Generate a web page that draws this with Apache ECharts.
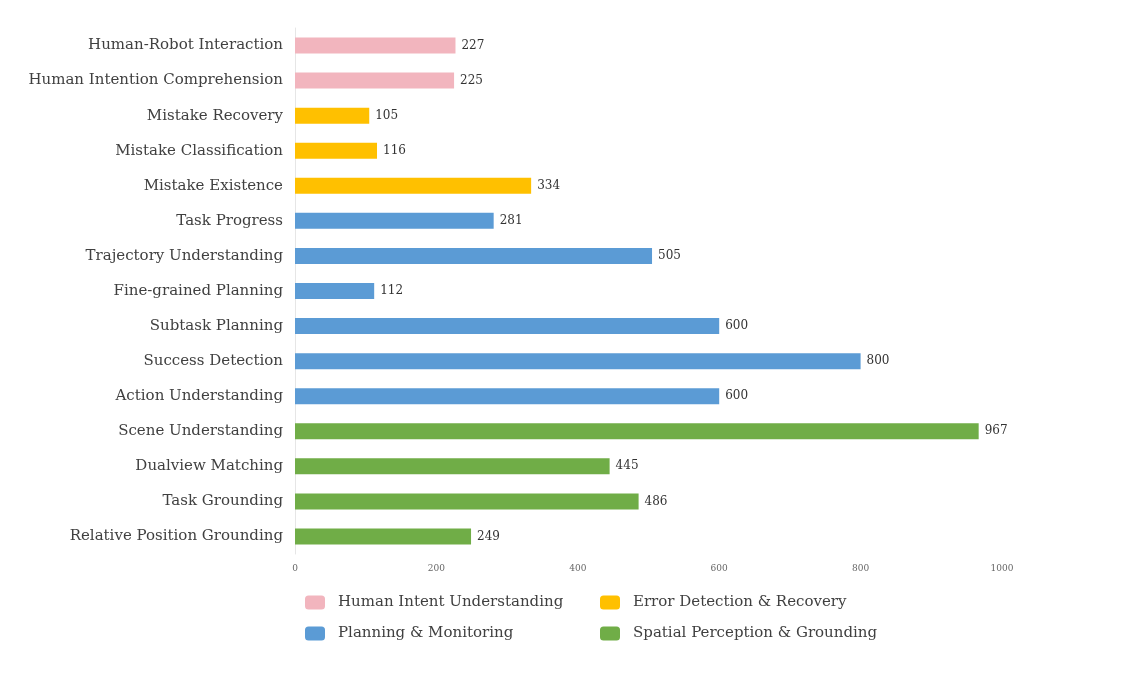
<!DOCTYPE html>
<html>
<head>
<meta charset="utf-8">
<script src="https://cdn.jsdelivr.net/npm/echarts@6/dist/echarts.min.js"></script>
<style>
  html, body { margin: 0; padding: 0; background: #fff; }
  #chart { width: 1130px; height: 696px; }
</style>
</head>
<body>
<div id="chart"></div>
<script>
const categories = [
  'Human-Robot Interaction', 'Human Intention Comprehension',
  'Mistake Recovery', 'Mistake Classification', 'Mistake Existence',
  'Task Progress', 'Trajectory Understanding', 'Fine-grained Planning',
  'Subtask Planning', 'Success Detection', 'Action Understanding',
  'Scene Understanding', 'Dualview Matching', 'Task Grounding',
  'Relative Position Grounding'
]
const values = [227, 225, 105, 116, 334, 281, 505, 112, 600, 800, 600, 967, 445, 486, 249]
// group of each category
const groupOf = [0, 0, 1, 1, 1, 2, 2, 2, 2, 2, 2, 3, 3, 3, 3]
const groupNames = [
  'Human Intent Understanding', 'Error Detection & Recovery',
  'Planning & Monitoring', 'Spatial Perception & Grounding'
]
const groupColors = ['#F2B5BE', '#FFC000', '#5B9BD5', '#70AD47']
const xTicks = [0, 200, 400, 600, 800, 1000]

const font = '"DejaVu Serif", "Liberation Serif", serif'

const chart = echarts.init(document.getElementById('chart'))

const series = groupNames.map((name, g) => ({
  name,
  type: 'bar',
  stack: 'all',
  barWidth: 16,
  itemStyle: { color: groupColors[g] },
  label: {
    show: true,
    position: 'right',
    distance: 6,
    color: '#333',
    fontFamily: font,
    fontSize: 12
  },
  data: values.map((v, i) => (groupOf[i] === g ? v : '-'))
}))

const legendBase = {
  orient: 'vertical',
  top: 590,
  itemWidth: 20,
  itemHeight: 14,
  itemGap: 16,
  icon: 'roundRect',
  textStyle: { color: '#404040', fontFamily: font, fontSize: 15, padding: [0, 0, 0, 8] }
}

const option = {
  animation: false,
  grid: { left: 295, right: 128, top: 28, bottom: 142, containLabel: false },
  xAxis: {
    type: 'value',
    min: xTicks[0],
    max: xTicks[xTicks.length - 1],
    interval: 200,
    splitLine: { show: false },
    axisLine: { show: false },
    axisTick: { show: false },
    axisLabel: {
      color: '#666', fontFamily: font, fontSize: 9, margin: 10,
      formatter: v => String(v)
    }
  },
  yAxis: {
    type: 'category',
    inverse: true,
    data: categories,
    axisLine: { show: true, lineStyle: { color: '#e6e6e6' } },
    axisTick: { show: false },
    axisLabel: { color: '#404040', fontFamily: font, fontSize: 15, margin: 12 }
  },
  legend: [
    Object.assign({}, legendBase, { left: 300, data: [groupNames[0], groupNames[2]] }),
    Object.assign({}, legendBase, { left: 595, data: [groupNames[1], groupNames[3]] })
  ],
  series
}

chart.setOption(option)
</script>
</body>
</html>
